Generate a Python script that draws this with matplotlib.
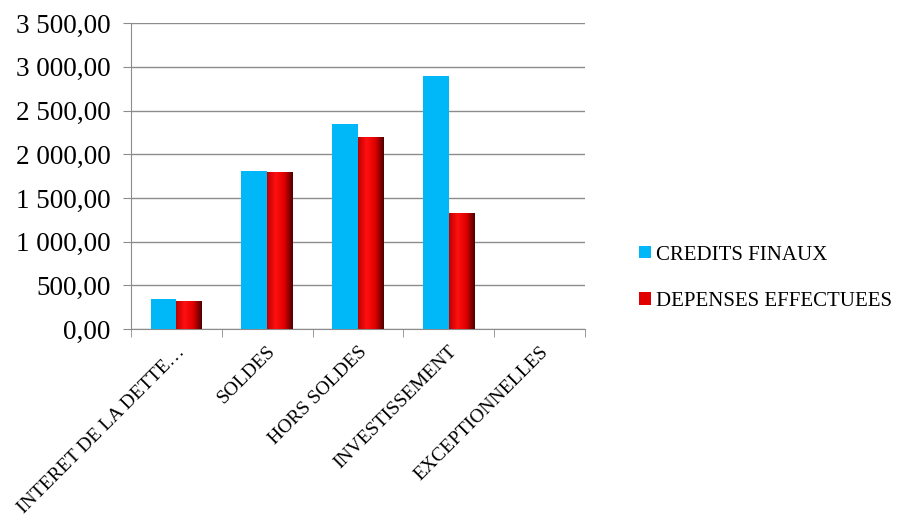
import matplotlib.pyplot as plt
import matplotlib.ticker as mticker
import matplotlib.transforms as mtransforms
import numpy as np
from matplotlib.colors import LinearSegmentedColormap

categories = ["INTERET DE LA DETTE…", "SOLDES", "HORS SOLDES", "INVESTISSEMENT", "EXCEPTIONNELLES"]
credits_finaux = [345, 1810, 2345, 2895, 0]
depenses_effectuees = [322, 1800, 2200, 1330, 0]

plt.rcParams['font.family'] = ['Liberation Serif', 'DejaVu Serif']

fig = plt.figure(figsize=(8.98, 5.15), dpi=100)
ax = fig.add_axes([0.146, 0.361, 0.505, 0.594])

x = np.arange(len(categories))
w = 0.285

ax.bar(x - w / 2, credits_finaux, w, color='#00b8f8', zorder=3)
red_bars = ax.bar(x + w / 2, depenses_effectuees, w, color='#e00000', zorder=3)

# shaded look for the red bars
red_cmap = LinearSegmentedColormap.from_list('red_shade', ['#c00000', '#ff1010', '#e00000', '#500000'])
grad = np.linspace(0, 1, 64).reshape(1, -1)
for bar in red_bars:
    h = bar.get_height()
    if h <= 0:
        continue
    x0 = bar.get_x()
    im = ax.imshow(grad, cmap=red_cmap, aspect='auto', zorder=4,
                   extent=[x0, x0 + bar.get_width(), 0, h])
    im.set_clip_path(bar)

ax.set_xlim(-0.5, len(categories) - 0.5)
ax.set_ylim(0, 3500)
ax.yaxis.set_major_locator(mticker.MultipleLocator(500))
ax.yaxis.set_major_formatter(mticker.FuncFormatter(
    lambda v, p: f"{v:,.2f}".replace(",", " ").replace(".", ",")))
ax.grid(axis='y', color='#8c8c8c', linewidth=1, zorder=0)

ax.set_xticks(x)
ax.set_xticklabels(categories, rotation=45, ha='right', rotation_mode='anchor', fontsize=14)
shift = mtransforms.ScaledTranslation(10 / 100, 0, fig.dpi_scale_trans)
for lbl in ax.get_xticklabels():
    lbl.set_transform(lbl.get_transform() + shift)
ax.set_xticks(np.arange(len(categories) + 1) - 0.5, minor=True)
ax.tick_params(axis='x', which='major', length=0, pad=10)
ax.tick_params(axis='x', which='minor', length=6, color='#8c8c8c')
ax.tick_params(axis='y', length=6, color='#8c8c8c', labelsize=19.5, pad=9)

for side in ['top', 'right']:
    ax.spines[side].set_visible(False)
for side in ['left', 'bottom']:
    ax.spines[side].set_color('#8c8c8c')

ax.legend(['CREDITS FINAUX', 'DEPENSES EFFECTUEES'],
          loc='center left', bbox_to_anchor=(0.712, 0.46), bbox_transform=fig.transFigure,
          frameon=False, fontsize=15, handlelength=0.55, handleheight=0.55,
          handletextpad=0.25, labelspacing=1.3, borderpad=0, borderaxespad=0)

fig.savefig('out.png', dpi=100)
